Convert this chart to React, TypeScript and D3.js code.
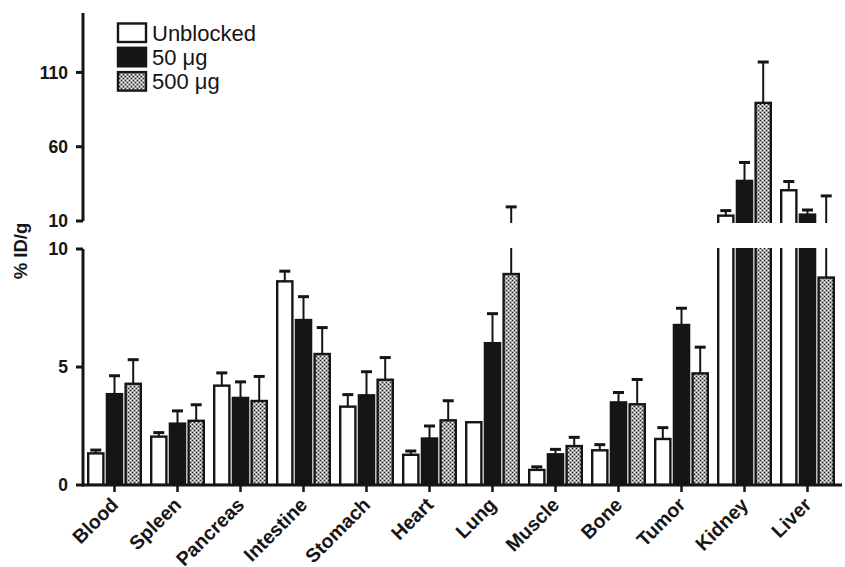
import React from "react";
import * as d3 from "d3";

const categories = ["Blood", "Spleen", "Pancreas", "Intestine", "Stomach", "Heart", "Lung", "Muscle", "Bone", "Tumor", "Kidney", "Liver"];
const seriesNames = ["Unblocked", "50 \u03bcg", "500 \u03bcg"];
const unblocked = [1.34, 2.05, 4.21, 8.63, 3.32, 1.28, 2.66, 0.64, 1.47, 1.95, 13.6, 30.7];
const unblockedSD = [0.14, 0.17, 0.54, 0.43, 0.51, 0.16, 0.0, 0.13, 0.24, 0.48, 3.4, 5.9];
const blocked50 = [3.85, 2.6, 3.69, 6.99, 3.8, 1.97, 6.01, 1.3, 3.5, 6.78, 37, 14.3];
const blocked50SD = [0.78, 0.54, 0.68, 0.99, 1.0, 0.53, 1.25, 0.21, 0.42, 0.71, 12.4, 3.1];
const blocked500 = [4.29, 2.72, 3.56, 5.55, 4.46, 2.74, 8.94, 1.65, 3.42, 4.73, 89.5, 8.79];
const blocked500SD = [1.02, 0.68, 1.04, 1.12, 0.94, 0.83, 10.56, 0.37, 1.05, 1.11, 27.5, 18.1];
const lowerTicks = [0, 5, 10];
const upperTicks = [10, 60, 110];

const FONT = "'Liberation Sans', Arial, Helvetica, sans-serif";

export default function App() {
  const W = 845, H = 567;
  const x = d3.scaleBand<string>().domain(categories).range([83, 839]).paddingInner(0);
  const sub = d3.scaleBand<number>().domain([0, 1, 2]).range([-27.5, 27.5]).paddingInner(0.06);
  const yLow = d3.scaleLinear().domain([0, 10]).range([485, 249]);
  const yHigh = d3.scaleLinear().domain([10, 150]).range([221, 13]);
  const yOf = (v: number) => (v <= 10 ? yLow(v) : yHigh(v));

  const values = [unblocked, blocked50, blocked500];
  const sds = [unblockedSD, blocked50SD, blocked500SD];
  const fills = ["#ffffff", "#151515", "url(#chk)"];
  const bw = sub.bandwidth();

  const marks = (clipId: string) => (
    <g clipPath={`url(#${clipId})`}>
      {categories.map((c, i) => {
        const cx = x(c)! + x.bandwidth() / 2;
        return values.map((arr, s) => {
          const v = arr[i];
          const sd = sds[s][i];
          const bx = cx + sub(s)!;
          const bc = bx + bw / 2;
          const top = yOf(v);
          const eTop = yOf(v + sd);
          return (
            <g key={`${c}-${s}`}>
              {sd > 0.05 && (
                <g>
                  <line x1={bc} x2={bc} y1={top} y2={eTop} stroke="#151515" strokeWidth={2} />
                  <line x1={bc - 5.5} x2={bc + 5.5} y1={eTop} y2={eTop} stroke="#151515" strokeWidth={3} />
                </g>
              )}
              <rect
                x={bx + 1.2}
                y={top}
                width={bw - 2.4}
                height={yLow(0) - top}
                fill={fills[s]}
                stroke="#151515"
                strokeWidth={2.4}
              />
            </g>
          );
        });
      })}
    </g>
  );

  return (
    <svg width={W} height={H} style={{ position: "fixed", left: 0, top: 0, background: "#fff" }} fontFamily={FONT}>
      <defs>
        <pattern id="chk" width={4} height={4} patternUnits="userSpaceOnUse">
          <rect width={4} height={4} fill="#a6a6a6" />
          <rect x={0} y={0} width={1} height={1} fill="#202020" />
          <rect x={2} y={2} width={1} height={1} fill="#202020" />
          <rect x={2} y={0} width={1} height={1} fill="#ffffff" />
          <rect x={0} y={2} width={1} height={1} fill="#ffffff" />
        </pattern>
        <clipPath id="clipLow">
          <rect x={0} y={248} width={W} height={237} />
        </clipPath>
        <clipPath id="clipHigh">
          <rect x={0} y={0} width={W} height={223} />
        </clipPath>
      </defs>

      {marks("clipHigh")}
      {marks("clipLow")}

      {/* Lower y axis */}
      <line x1={83} x2={83} y1={yLow(10)} y2={yLow(0) + 1.5} stroke="#151515" strokeWidth={3} />
      {lowerTicks.map((t) => (
        <g key={`lt${t}`} transform={`translate(0,${yLow(t)})`}>
          <line x1={76} x2={83} stroke="#151515" strokeWidth={3} />
          <text x={68} dy="0.35em" textAnchor="end" fontWeight="bold" fontSize={17.5} fill="#151515">{t}</text>
        </g>
      ))}
      {/* Upper y axis */}
      <line x1={83} x2={83} y1={13} y2={yHigh(10)} stroke="#151515" strokeWidth={3} />
      {upperTicks.map((t) => (
        <g key={`ut${t}`} transform={`translate(0,${yHigh(t)})`}>
          <line x1={76} x2={83} stroke="#151515" strokeWidth={3} />
          <text x={68} dy="0.35em" textAnchor="end" fontWeight="bold" fontSize={17.5} fill="#151515">{t}</text>
        </g>
      ))}
      <text transform="translate(27,251) rotate(-90)" textAnchor="middle" fontWeight="bold" fontSize={18.5} fill="#151515">% ID/g</text>

      {/* x axis */}
      <line x1={82} x2={842} y1={yLow(0)} y2={yLow(0)} stroke="#151515" strokeWidth={3} />
      {categories.map((c) => {
        const cx = x(c)! + x.bandwidth() / 2;
        return (
          <g key={`xt${c}`}>
            <line x1={cx} x2={cx} y1={yLow(0)} y2={yLow(0) + 7} stroke="#151515" strokeWidth={2.5} />
            <text transform={`translate(${cx + 5},${yLow(0) + 21}) rotate(-45)`} textAnchor="end" fontWeight="bold" fontSize={19.5} fill="#151515">{c}</text>
          </g>
        );
      })}

      {/* legend */}
      {seriesNames.map((n, s) => (
        <g key={`lg${n}`} transform={`translate(117,${23.5 + s * 24.3})`}>
          <rect x={1} y={0} width={28} height={18.5} fill={fills[s]} stroke="#151515" strokeWidth={2.4} />
          <text x={35} y={17} fontSize={22} fill="#151515">{n}</text>
        </g>
      ))}
    </svg>
  );
}
